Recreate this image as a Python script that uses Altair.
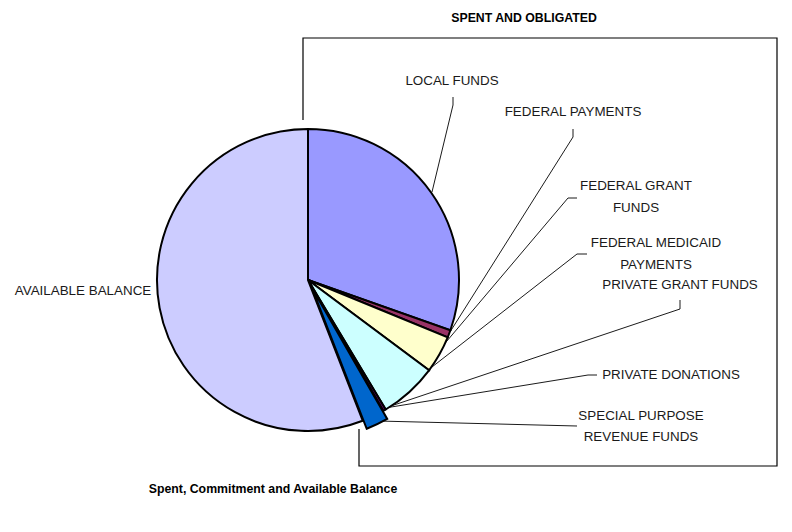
import altair as alt
import pandas as pd

# ---- data (percent of total) ----
categories = ["LOCAL FUNDS", "FEDERAL PAYMENTS", "FEDERAL GRANT FUNDS",
              "FEDERAL MEDICAID PAYMENTS", "PRIVATE GRANT FUNDS",
              "PRIVATE DONATIONS", "SPECIAL PURPOSE REVENUE FUNDS",
              "AVAILABLE BALANCE"]
values = [30.4, 0.8, 4.0, 6.2, 0.3, 0.0, 2.4, 55.9]
exploded = "SPECIAL PURPOSE REVENUE FUNDS"

# ---- styles ----
colors = ["#9999FF", "#993366", "#FFFFCC", "#CCFFFF", "#660066",
          "#FF8080", "#0066CC", "#CCCCFF"]
FONT = "Liberation Sans Narrow, Arial Narrow, Liberation Sans, sans-serif"
CX, CY, R = 308, 280, 151

# ---- layout of label texts (pixel positions) ----
label_lines = ["LOCAL FUNDS", "FEDERAL PAYMENTS", "FEDERAL GRANT", "FUNDS",
               "FEDERAL MEDICAID", "PAYMENTS", "PRIVATE GRANT FUNDS",
               "PRIVATE DONATIONS", "SPECIAL PURPOSE", "REVENUE FUNDS",
               "AVAILABLE BALANCE"]
label_x = [452, 573, 636, 636, 656, 656, 680, 671, 641, 641, 83]
label_y = [81, 112, 186, 208, 243, 265, 285, 375, 416, 437, 291]

# leader lines (polylines, pixel positions)
leader_id = [0, 0, 0, 1, 1, 1, 2, 2, 2, 3, 3, 3, 4, 4, 4, 5, 5, 5, 6, 6]
leader_x = [453, 453, 432, 573, 573, 450, 577, 568, 441, 587, 577, 423,
            680, 680, 385, 597, 588, 385, 577, 378]
leader_y = [97, 105, 192, 129, 137, 332, 198, 198, 348, 254, 254, 374,
            300, 309, 408, 375, 375, 408, 426, 421]

# callout frame
frame_x = [303, 303, 777, 777, 359, 359]
frame_y = [120, 38, 38, 466, 466, 429]

pie_df = pd.DataFrame({"category": categories, "value": values,
                       "order": list(range(len(categories)))})
labels_df = pd.DataFrame({"text": label_lines, "x": label_x, "y": label_y})
leader_df = pd.DataFrame({"id": leader_id, "x": leader_x, "y": leader_y,
                          "seq": list(range(len(leader_x)))})
frame_df = pd.DataFrame({"x": frame_x, "y": frame_y,
                         "seq": list(range(len(frame_x)))})

base = alt.Chart(pie_df).encode(
    theta=alt.Theta("value:Q", stack=True),
    order=alt.Order("order:Q"),
    color=alt.Color("category:N",
                    scale=alt.Scale(domain=categories, range=colors),
                    legend=None),
    x=alt.value(CX),
    y=alt.value(CY),
)
is_exp = f"datum.category == '{exploded}'"

pie_main = base.mark_arc(outerRadius=R, stroke="black", strokeWidth=2,
                         strokeJoin="miter").encode(
    opacity=alt.condition(is_exp, alt.value(0), alt.value(1))
)
pie_exp = base.mark_arc(outerRadius=R, stroke="black", strokeWidth=2,
                        strokeJoin="miter", xOffset=4, yOffset=8).encode(
    opacity=alt.condition(is_exp, alt.value(1), alt.value(0))
)

frame = alt.Chart(frame_df).mark_line(color="black", strokeWidth=1.2).encode(
    x=alt.X("x:Q", scale=None), y=alt.Y("y:Q", scale=None),
    order="seq:Q")

leaders = alt.Chart(leader_df).mark_line(color="black", strokeWidth=0.9).encode(
    x=alt.X("x:Q", scale=None), y=alt.Y("y:Q", scale=None),
    detail="id:N", order="seq:Q")

labels = alt.Chart(labels_df).mark_text(font=FONT, fontSize=13.4, color="#1a1a1a",
                                        align="center", baseline="middle").encode(
    x=alt.X("x:Q", scale=None), y=alt.Y("y:Q", scale=None), text="text:N")

titles_df = pd.DataFrame({"text": ["SPENT AND OBLIGATED",
                                   "Spent, Commitment and Available Balance"],
                          "x": [524, 273], "y": [18, 489]})
titles = alt.Chart(titles_df).mark_text(font=FONT, fontSize=12.3, fontWeight="bold",
                                        color="black", align="center",
                                        baseline="middle").encode(
    x=alt.X("x:Q", scale=None), y=alt.Y("y:Q", scale=None), text="text:N")

chart = alt.layer(frame, leaders, pie_main, pie_exp, labels, titles).properties(
    width=792, height=532, autosize=alt.AutoSizeParams(type="none"),
    padding=0, background="white"
).configure_view(stroke=None)

chart.save("out.html", embed_options={"renderer": "svg", "actions": False})
